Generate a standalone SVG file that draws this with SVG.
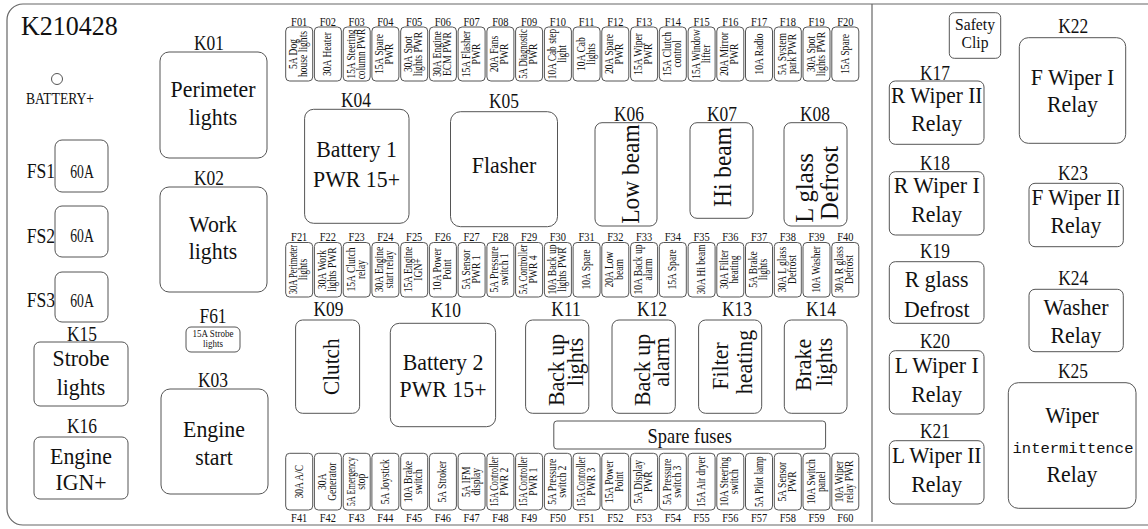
<svg xmlns="http://www.w3.org/2000/svg" width="1148" height="529" viewBox="0 0 1148 529">
<style>
text{font-family:"Liberation Serif","Times New Roman","DejaVu Serif",serif;fill:#111}
.b{fill:#fff;stroke:#555;stroke-width:1}
.fr{fill:none;stroke:#666;stroke-width:1.2}
.k{font-size:21px;text-anchor:middle}
.m{font-size:23px;text-anchor:middle}
.s{font-size:17px;text-anchor:middle}
.fl{font-size:13px;text-anchor:middle}
.ft{font-size:12px;text-anchor:middle}
.mono{font-family:"Liberation Mono",monospace;font-size:15.5px;text-anchor:middle}
</style>
<rect width="1148" height="529" fill="#fff"/>
<g id="frame">
<rect class="fr" x="7" y="4" width="1165" height="521" rx="16"/>
<line class="fr" x1="872" y1="4" x2="872" y2="522"/>
</g>
<g id="connectors"/>
<g id="title"><text transform="translate(21,35) scale(.93,1)" style="font-size:28px">K210428</text></g>
<g id="battery">
<circle cx="57" cy="79" r="5.5" fill="none" stroke="#555" stroke-width="1"/>
<text transform="translate(60,104) scale(.85,1)" style="font-size:16px;text-anchor:middle">BATTERY+</text>
</g>
<g id="FS1"><text transform="translate(55,178) scale(.8,1)" style="font-size:22px;text-anchor:end">FS1</text><rect class="b" x="55" y="140" width="53" height="52" rx="7"/><text transform="translate(82,178) scale(.72,1)" style="font-size:19px;text-anchor:middle">60A</text></g>
<g id="FS2"><text transform="translate(55,243) scale(.8,1)" style="font-size:22px;text-anchor:end">FS2</text><rect class="b" x="55" y="206" width="53" height="51" rx="7"/><text transform="translate(82,242) scale(.72,1)" style="font-size:19px;text-anchor:middle">60A</text></g>
<g id="FS3"><text transform="translate(55,307) scale(.8,1)" style="font-size:22px;text-anchor:end">FS3</text><rect class="b" x="55" y="272" width="53" height="50" rx="7"/><text transform="translate(82,307) scale(.72,1)" style="font-size:19px;text-anchor:middle">60A</text></g>

<g id="K01"><text class="k" transform="translate(209,50) scale(.83,1)">K01</text><rect class="b" x="160" y="52" width="107" height="106" rx="9"/><text class="m" transform="translate(213,97) scale(.95,1)">Perimeter</text><text class="m" transform="translate(213,125) scale(.95,1)">lights</text></g>
<g id="K02"><text class="k" transform="translate(209,185) scale(.83,1)">K02</text><rect class="b" x="160" y="187" width="107" height="105" rx="9"/><text class="m" transform="translate(213,232) scale(.95,1)">Work</text><text class="m" transform="translate(213,259) scale(.95,1)">lights</text></g>
<g id="F61"><text class="k" transform="translate(213,323) scale(.83,1)">F61</text><rect class="b" x="186" y="327" width="54" height="25" rx="5"/><text transform="translate(213,336.5) scale(.82,1)" style="font-size:11px;text-anchor:middle">15A Strobe</text><text transform="translate(213,347) scale(.82,1)" style="font-size:11px;text-anchor:middle">lights</text></g>
<g id="K03"><text class="k" transform="translate(213,387) scale(.83,1)">K03</text><rect class="b" x="161" y="389" width="107" height="105" rx="9"/><text class="m" transform="translate(214,437) scale(.95,1)">Engine</text><text class="m" transform="translate(214,465) scale(.95,1)">start</text></g>
<g id="K15"><text class="k" transform="translate(82,341) scale(.83,1)">K15</text><rect class="b" x="34" y="342" width="94" height="64" rx="6"/><text class="m" transform="translate(81,366) scale(.95,1)">Strobe</text><text class="m" transform="translate(81,395) scale(.95,1)">lights</text></g>
<g id="K16"><text class="k" transform="translate(82,433) scale(.83,1)">K16</text><rect class="b" x="34" y="437" width="94" height="62" rx="6"/><text class="m" transform="translate(81,464) scale(.95,1)">Engine</text><text class="m" transform="translate(81,490) scale(.95,1)">IGN+</text></g>

<g id="K04"><text class="k" transform="translate(356,107) scale(.83,1)">K04</text><rect class="b" x="304.6" y="109.3" width="104.4" height="114" rx="9"/><text class="m" transform="translate(356.5,157) scale(.95,1)">Battery 1</text><text class="m" transform="translate(356.5,187) scale(.95,1)">PWR 15+</text></g>
<g id="K05"><text class="k" transform="translate(504,108) scale(.83,1)">K05</text><rect class="b" x="450.5" y="111.7" width="107" height="115" rx="10"/><text class="m" transform="translate(504,173) scale(.95,1)">Flasher</text></g>
<g id="K06"><text class="k" transform="translate(629,121) scale(.83,1)">K06</text><rect class="b" x="595" y="122.7" width="62" height="103.3" rx="7"/><text transform="translate(639,174) rotate(-90) scale(.9,1)" style="font-size:26px;text-anchor:middle">Low beam</text></g>
<g id="K07"><text class="k" transform="translate(722,121) scale(.83,1)">K07</text><rect class="b" x="690" y="122.7" width="63" height="95.6" rx="7"/><text transform="translate(731,167) rotate(-90) scale(.9,1)" style="font-size:26px;text-anchor:middle">Hi beam</text></g>
<g id="K08"><text class="k" transform="translate(815,121) scale(.83,1)">K08</text><rect class="b" x="784" y="122.7" width="63" height="103.3" rx="7"/><text transform="translate(813,188) rotate(-90) scale(.95,1)" style="font-size:26px;text-anchor:middle">L glass</text><text transform="translate(838,183) rotate(-90) scale(.95,1)" style="font-size:26px;text-anchor:middle">Defrost</text></g>

<g id="K09"><text class="k" transform="translate(328.5,316) scale(.83,1)">K09</text><rect class="b" x="295.6" y="320" width="64" height="93.3" rx="7"/><text transform="translate(339,366.7) rotate(-90) scale(.92,1)" style="font-size:23px;text-anchor:middle">Clutch</text></g>
<g id="K10"><text class="k" transform="translate(446,317) scale(.83,1)">K10</text><rect class="b" x="390.3" y="323.3" width="105.3" height="103.4" rx="9"/><text class="m" transform="translate(443,370) scale(.95,1)">Battery 2</text><text class="m" transform="translate(443,397) scale(.95,1)">PWR 15+</text></g>
<g id="K11"><text class="k" transform="translate(566,316) scale(.83,1)">K11</text><rect class="b" x="525.6" y="320" width="63.2" height="93.3" rx="7"/><text transform="translate(564,370) rotate(-90) scale(.95,1)" style="font-size:23px;text-anchor:middle">Back up</text><text transform="translate(583,362) rotate(-90) scale(.95,1)" style="font-size:23px;text-anchor:middle">lights</text></g>
<g id="K12"><text class="k" transform="translate(652,316) scale(.83,1)">K12</text><rect class="b" x="612" y="320" width="63.3" height="93.3" rx="7"/><text transform="translate(650,370) rotate(-90) scale(.95,1)" style="font-size:23px;text-anchor:middle">Back up</text><text transform="translate(669,362) rotate(-90) scale(.95,1)" style="font-size:23px;text-anchor:middle">alarm</text></g>
<g id="K13"><text class="k" transform="translate(737,316) scale(.83,1)">K13</text><rect class="b" x="698.6" y="320" width="63.1" height="93.3" rx="7"/><text transform="translate(728,366) rotate(-90) scale(.95,1)" style="font-size:23px;text-anchor:middle">Filter</text><text transform="translate(752,362) rotate(-90) scale(.95,1)" style="font-size:23px;text-anchor:middle">heating</text></g>
<g id="K14"><text class="k" transform="translate(821,316) scale(.83,1)">K14</text><rect class="b" x="784.3" y="320" width="62.7" height="93.3" rx="7"/><text transform="translate(811,365) rotate(-90) scale(.95,1)" style="font-size:23px;text-anchor:middle">Brake</text><text transform="translate(832,362) rotate(-90) scale(.95,1)" style="font-size:23px;text-anchor:middle">lights</text></g>
<g id="spare"><rect class="b" x="553.8" y="421" width="271.8" height="28" rx="3"/><text transform="translate(689.7,443) scale(.92,1)" style="font-size:20px;text-anchor:middle">Spare fuses</text></g>

<g id="safety"><rect class="b" x="949.3" y="12.7" width="51.4" height="45.6" rx="5"/><text class="s" transform="translate(975,30) scale(.92,1)">Safety</text><text class="s" transform="translate(975,48) scale(.92,1)">Clip</text></g>
<g id="K17"><text class="k" transform="translate(935,80) scale(.83,1)">K17</text><rect class="b" x="889.3" y="81" width="94.7" height="63.3" rx="6"/><text class="m" transform="translate(936.7,103.3) scale(.93,1)">R Wiper II</text><text class="m" transform="translate(936.7,131) scale(.95,1)">Relay</text></g>
<g id="K18"><text class="k" transform="translate(935,170) scale(.83,1)">K18</text><rect class="b" x="889.3" y="171.7" width="94.7" height="63.3" rx="6"/><text class="m" transform="translate(936.7,193.3) scale(.95,1)">R Wiper I</text><text class="m" transform="translate(936.7,221.7) scale(.95,1)">Relay</text></g>
<g id="K19"><text class="k" transform="translate(935,258.3) scale(.83,1)">K19</text><rect class="b" x="889.3" y="261.7" width="94.7" height="61.6" rx="6"/><text class="m" transform="translate(936.7,286.7) scale(.95,1)">R glass</text><text class="m" transform="translate(936.7,316.7) scale(.95,1)">Defrost</text></g>
<g id="K20"><text class="k" transform="translate(935,348.3) scale(.83,1)">K20</text><rect class="b" x="889.3" y="350.7" width="94.7" height="63.3" rx="6"/><text class="m" transform="translate(936.7,373.3) scale(.95,1)">L Wiper I</text><text class="m" transform="translate(936.7,401.7) scale(.95,1)">Relay</text></g>
<g id="K21"><text class="k" transform="translate(935,438.3) scale(.83,1)">K21</text><rect class="b" x="889.3" y="440.7" width="94.7" height="63.3" rx="6"/><text class="m" transform="translate(936.7,463.3) scale(.93,1)">L Wiper II</text><text class="m" transform="translate(936.7,491.7) scale(.95,1)">Relay</text></g>
<g id="K22"><text class="k" transform="translate(1073.3,33.3) scale(.83,1)">K22</text><rect class="b" x="1019.3" y="37.7" width="106.4" height="105.6" rx="9"/><text class="m" transform="translate(1072.5,85) scale(.95,1)">F Wiper I</text><text class="m" transform="translate(1072.5,111.7) scale(.95,1)">Relay</text></g>
<g id="K23"><text class="k" transform="translate(1073,180) scale(.83,1)">K23</text><rect class="b" x="1029" y="183.3" width="94.3" height="63.4" rx="6"/><text class="m" transform="translate(1076,205) scale(.93,1)">F Wiper II</text><text class="m" transform="translate(1076,233.3) scale(.95,1)">Relay</text></g>
<g id="K24"><text class="k" transform="translate(1073.3,285) scale(.83,1)">K24</text><rect class="b" x="1029" y="289.3" width="94.3" height="62.4" rx="6"/><text class="m" transform="translate(1076,315) scale(.95,1)">Washer</text><text class="m" transform="translate(1076,342.7) scale(.95,1)">Relay</text></g>
<g id="K25"><text class="k" transform="translate(1073,378.3) scale(.83,1)">K25</text><rect class="b" x="1008.3" y="382.7" width="127.7" height="125.6" rx="10"/><text class="m" transform="translate(1072,423.3) scale(.95,1)">Wiper</text><text class="mono" x="1073" y="452.7">intermittence</text><text class="m" transform="translate(1072,481.7) scale(.95,1)">Relay</text></g>

<g id="F01"><text class="fl" transform="translate(299.2,25.5) scale(.8,1)">F01</text><rect class="b" x="285.7" y="27" width="27" height="54" rx="4"/><text class="ft" transform="translate(297.2,54) rotate(-90) scale(.8,1)">5A Dog</text><text class="ft" transform="translate(307.2,54) rotate(-90) scale(.8,1)">house lights</text></g>
<g id="F02"><text class="fl" transform="translate(327.9,25.5) scale(.8,1)">F02</text><rect class="b" x="314.4" y="27" width="27" height="54" rx="4"/><text class="ft" transform="translate(331.4,54) rotate(-90) scale(.8,1)">30A Heater</text></g>
<g id="F03"><text class="fl" transform="translate(356.7,25.5) scale(.8,1)">F03</text><rect class="b" x="343.2" y="27" width="27" height="54" rx="4"/><text class="ft" transform="translate(354.7,54) rotate(-90) scale(.78,1)">15A Steering</text><text class="ft" transform="translate(364.7,54) rotate(-90) scale(.78,1)">column PWR</text></g>
<g id="F04"><text class="fl" transform="translate(385.4,25.5) scale(.8,1)">F04</text><rect class="b" x="371.9" y="27" width="27" height="54" rx="4"/><text class="ft" transform="translate(383.4,54) rotate(-90) scale(.8,1)">15A Spare</text><text class="ft" transform="translate(393.4,54) rotate(-90) scale(.8,1)">PWR</text></g>
<g id="F05"><text class="fl" transform="translate(414.2,25.5) scale(.8,1)">F05</text><rect class="b" x="400.7" y="27" width="27" height="54" rx="4"/><text class="ft" transform="translate(412.2,54) rotate(-90) scale(.8,1)">30A Spot</text><text class="ft" transform="translate(422.2,54) rotate(-90) scale(.8,1)">lights PWR</text></g>
<g id="F06"><text class="fl" transform="translate(442.9,25.5) scale(.8,1)">F06</text><rect class="b" x="429.4" y="27" width="27" height="54" rx="4"/><text class="ft" transform="translate(440.9,54) rotate(-90) scale(.8,1)">30A Engine</text><text class="ft" transform="translate(450.9,54) rotate(-90) scale(.8,1)">ECM PWR</text></g>
<g id="F07"><text class="fl" transform="translate(471.6,25.5) scale(.8,1)">F07</text><rect class="b" x="458.1" y="27" width="27" height="54" rx="4"/><text class="ft" transform="translate(469.6,54) rotate(-90) scale(.8,1)">15A Flasher</text><text class="ft" transform="translate(479.6,54) rotate(-90) scale(.8,1)">PWR</text></g>
<g id="F08"><text class="fl" transform="translate(500.4,25.5) scale(.8,1)">F08</text><rect class="b" x="486.9" y="27" width="27" height="54" rx="4"/><text class="ft" transform="translate(498.4,54) rotate(-90) scale(.8,1)">20A Fans</text><text class="ft" transform="translate(508.4,54) rotate(-90) scale(.8,1)">PWR</text></g>
<g id="F09"><text class="fl" transform="translate(529.1,25.5) scale(.8,1)">F09</text><rect class="b" x="515.6" y="27" width="27" height="54" rx="4"/><text class="ft" transform="translate(527.1,54) rotate(-90) scale(.72,1)">5A Diagnostic</text><text class="ft" transform="translate(537.1,54) rotate(-90) scale(.8,1)">PWR</text></g>
<g id="F10"><text class="fl" transform="translate(557.9,25.5) scale(.8,1)">F10</text><rect class="b" x="544.4" y="27" width="27" height="54" rx="4"/><text class="ft" transform="translate(555.9,54) rotate(-90) scale(.78,1)">10A Cab step</text><text class="ft" transform="translate(565.9,54) rotate(-90) scale(.8,1)">light</text></g>
<g id="F11"><text class="fl" transform="translate(586.6,25.5) scale(.8,1)">F11</text><rect class="b" x="573.1" y="27" width="27" height="54" rx="4"/><text class="ft" transform="translate(584.6,54) rotate(-90) scale(.8,1)">10A Cab</text><text class="ft" transform="translate(594.6,54) rotate(-90) scale(.8,1)">lights</text></g>
<g id="F12"><text class="fl" transform="translate(615.3,25.5) scale(.8,1)">F12</text><rect class="b" x="601.8" y="27" width="27" height="54" rx="4"/><text class="ft" transform="translate(613.3,54) rotate(-90) scale(.8,1)">20A Spare</text><text class="ft" transform="translate(623.3,54) rotate(-90) scale(.8,1)">PWR</text></g>
<g id="F13"><text class="fl" transform="translate(644.1,25.5) scale(.8,1)">F13</text><rect class="b" x="630.6" y="27" width="27" height="54" rx="4"/><text class="ft" transform="translate(642.1,54) rotate(-90) scale(.8,1)">15A Wiper</text><text class="ft" transform="translate(652.1,54) rotate(-90) scale(.8,1)">PWR</text></g>
<g id="F14"><text class="fl" transform="translate(672.8,25.5) scale(.8,1)">F14</text><rect class="b" x="659.3" y="27" width="27" height="54" rx="4"/><text class="ft" transform="translate(670.8,54) rotate(-90) scale(.8,1)">15A Clutch</text><text class="ft" transform="translate(680.8,54) rotate(-90) scale(.8,1)">control</text></g>
<g id="F15"><text class="fl" transform="translate(701.6,25.5) scale(.8,1)">F15</text><rect class="b" x="688.1" y="27" width="27" height="54" rx="4"/><text class="ft" transform="translate(699.6,54) rotate(-90) scale(.78,1)">15A Window</text><text class="ft" transform="translate(709.6,54) rotate(-90) scale(.8,1)">lifter</text></g>
<g id="F16"><text class="fl" transform="translate(730.3,25.5) scale(.8,1)">F16</text><rect class="b" x="716.8" y="27" width="27" height="54" rx="4"/><text class="ft" transform="translate(728.3,54) rotate(-90) scale(.8,1)">20A Mirror</text><text class="ft" transform="translate(738.3,54) rotate(-90) scale(.8,1)">PWR</text></g>
<g id="F17"><text class="fl" transform="translate(759,25.5) scale(.8,1)">F17</text><rect class="b" x="745.5" y="27" width="27" height="54" rx="4"/><text class="ft" transform="translate(762.5,54) rotate(-90) scale(.8,1)">10A Radio</text></g>
<g id="F18"><text class="fl" transform="translate(787.8,25.5) scale(.8,1)">F18</text><rect class="b" x="774.3" y="27" width="27" height="54" rx="4"/><text class="ft" transform="translate(785.8,54) rotate(-90) scale(.8,1)">5A System</text><text class="ft" transform="translate(795.8,54) rotate(-90) scale(.8,1)">park PWR</text></g>
<g id="F19"><text class="fl" transform="translate(816.5,25.5) scale(.8,1)">F19</text><rect class="b" x="803" y="27" width="27" height="54" rx="4"/><text class="ft" transform="translate(814.5,54) rotate(-90) scale(.8,1)">30A Spot</text><text class="ft" transform="translate(824.5,54) rotate(-90) scale(.8,1)">lights PWR</text></g>
<g id="F20"><text class="fl" transform="translate(845.3,25.5) scale(.8,1)">F20</text><rect class="b" x="831.8" y="27" width="27" height="54" rx="4"/><text class="ft" transform="translate(848.8,54) rotate(-90) scale(.8,1)">15A Spare</text></g>

<g id="F21"><text class="fl" transform="translate(299.2,241) scale(.8,1)">F21</text><rect class="b" x="285.7" y="242.5" width="27" height="54.5" rx="4"/><text class="ft" transform="translate(297.2,269.5) rotate(-90) scale(.71,1)">30A Perimeter</text><text class="ft" transform="translate(307.2,269.5) rotate(-90) scale(.8,1)">lights</text></g>
<g id="F22"><text class="fl" transform="translate(327.9,241) scale(.8,1)">F22</text><rect class="b" x="314.4" y="242.5" width="27" height="54.5" rx="4"/><text class="ft" transform="translate(325.9,269.5) rotate(-90) scale(.8,1)">30A Work</text><text class="ft" transform="translate(335.9,269.5) rotate(-90) scale(.8,1)">lights PWR</text></g>
<g id="F23"><text class="fl" transform="translate(356.7,241) scale(.8,1)">F23</text><rect class="b" x="343.2" y="242.5" width="27" height="54.5" rx="4"/><text class="ft" transform="translate(354.7,269.5) rotate(-90) scale(.8,1)">15A Clutch</text><text class="ft" transform="translate(364.7,269.5) rotate(-90) scale(.8,1)">relay</text></g>
<g id="F24"><text class="fl" transform="translate(385.4,241) scale(.8,1)">F24</text><rect class="b" x="371.9" y="242.5" width="27" height="54.5" rx="4"/><text class="ft" transform="translate(383.4,269.5) rotate(-90) scale(.8,1)">30A Engine</text><text class="ft" transform="translate(393.4,269.5) rotate(-90) scale(.8,1)">start relay</text></g>
<g id="F25"><text class="fl" transform="translate(414.2,241) scale(.8,1)">F25</text><rect class="b" x="400.7" y="242.5" width="27" height="54.5" rx="4"/><text class="ft" transform="translate(412.2,269.5) rotate(-90) scale(.8,1)">15A Engine</text><text class="ft" transform="translate(422.2,269.5) rotate(-90) scale(.8,1)">IGN+</text></g>
<g id="F26"><text class="fl" transform="translate(442.9,241) scale(.8,1)">F26</text><rect class="b" x="429.4" y="242.5" width="27" height="54.5" rx="4"/><text class="ft" transform="translate(440.9,269.5) rotate(-90) scale(.8,1)">10A Power</text><text class="ft" transform="translate(450.9,269.5) rotate(-90) scale(.8,1)">Point</text></g>
<g id="F27"><text class="fl" transform="translate(471.6,241) scale(.8,1)">F27</text><rect class="b" x="458.1" y="242.5" width="27" height="54.5" rx="4"/><text class="ft" transform="translate(469.6,269.5) rotate(-90) scale(.8,1)">5A Sensor</text><text class="ft" transform="translate(479.6,269.5) rotate(-90) scale(.8,1)">PWR 1</text></g>
<g id="F28"><text class="fl" transform="translate(500.4,241) scale(.8,1)">F28</text><rect class="b" x="486.9" y="242.5" width="27" height="54.5" rx="4"/><text class="ft" transform="translate(498.4,269.5) rotate(-90) scale(.8,1)">5A Pressure</text><text class="ft" transform="translate(508.4,269.5) rotate(-90) scale(.8,1)">switch 1</text></g>
<g id="F29"><text class="fl" transform="translate(529.1,241) scale(.8,1)">F29</text><rect class="b" x="515.6" y="242.5" width="27" height="54.5" rx="4"/><text class="ft" transform="translate(527.1,269.5) rotate(-90) scale(.75,1)">5A Controller</text><text class="ft" transform="translate(537.1,269.5) rotate(-90) scale(.8,1)">PWR 4</text></g>
<g id="F30"><text class="fl" transform="translate(557.9,241) scale(.8,1)">F30</text><rect class="b" x="544.4" y="242.5" width="27" height="54.5" rx="4"/><text class="ft" transform="translate(555.9,269.5) rotate(-90) scale(.8,1)">10A Back up</text><text class="ft" transform="translate(565.9,269.5) rotate(-90) scale(.8,1)">lights PWR</text></g>
<g id="F31"><text class="fl" transform="translate(586.6,241) scale(.8,1)">F31</text><rect class="b" x="573.1" y="242.5" width="27" height="54.5" rx="4"/><text class="ft" transform="translate(590.1,269.5) rotate(-90) scale(.8,1)">10A Spare</text></g>
<g id="F32"><text class="fl" transform="translate(615.3,241) scale(.8,1)">F32</text><rect class="b" x="601.8" y="242.5" width="27" height="54.5" rx="4"/><text class="ft" transform="translate(613.3,269.5) rotate(-90) scale(.8,1)">20A Low</text><text class="ft" transform="translate(623.3,269.5) rotate(-90) scale(.8,1)">beam</text></g>
<g id="F33"><text class="fl" transform="translate(644.1,241) scale(.8,1)">F33</text><rect class="b" x="630.6" y="242.5" width="27" height="54.5" rx="4"/><text class="ft" transform="translate(642.1,269.5) rotate(-90) scale(.8,1)">10A Back up</text><text class="ft" transform="translate(652.1,269.5) rotate(-90) scale(.8,1)">alarm</text></g>
<g id="F34"><text class="fl" transform="translate(672.8,241) scale(.8,1)">F34</text><rect class="b" x="659.3" y="242.5" width="27" height="54.5" rx="4"/><text class="ft" transform="translate(676.3,269.5) rotate(-90) scale(.8,1)">15A Spare</text></g>
<g id="F35"><text class="fl" transform="translate(701.6,241) scale(.8,1)">F35</text><rect class="b" x="688.1" y="242.5" width="27" height="54.5" rx="4"/><text class="ft" transform="translate(705.1,269.5) rotate(-90) scale(.78,1)">30A Hi beam</text></g>
<g id="F36"><text class="fl" transform="translate(730.3,241) scale(.8,1)">F36</text><rect class="b" x="716.8" y="242.5" width="27" height="54.5" rx="4"/><text class="ft" transform="translate(728.3,269.5) rotate(-90) scale(.8,1)">30A Filter</text><text class="ft" transform="translate(738.3,269.5) rotate(-90) scale(.8,1)">heating</text></g>
<g id="F37"><text class="fl" transform="translate(759,241) scale(.8,1)">F37</text><rect class="b" x="745.5" y="242.5" width="27" height="54.5" rx="4"/><text class="ft" transform="translate(757,269.5) rotate(-90) scale(.8,1)">5A Brake</text><text class="ft" transform="translate(767,269.5) rotate(-90) scale(.8,1)">lights</text></g>
<g id="F38"><text class="fl" transform="translate(787.8,241) scale(.8,1)">F38</text><rect class="b" x="774.3" y="242.5" width="27" height="54.5" rx="4"/><text class="ft" transform="translate(785.8,269.5) rotate(-90) scale(.8,1)">30A L glass</text><text class="ft" transform="translate(795.8,269.5) rotate(-90) scale(.8,1)">Defrost</text></g>
<g id="F39"><text class="fl" transform="translate(816.5,241) scale(.8,1)">F39</text><rect class="b" x="803" y="242.5" width="27" height="54.5" rx="4"/><text class="ft" transform="translate(820,269.5) rotate(-90) scale(.8,1)">10A Washer</text></g>
<g id="F40"><text class="fl" transform="translate(845.3,241) scale(.8,1)">F40</text><rect class="b" x="831.8" y="242.5" width="27" height="54.5" rx="4"/><text class="ft" transform="translate(843.3,269.5) rotate(-90) scale(.8,1)">30A R glass</text><text class="ft" transform="translate(853.3,269.5) rotate(-90) scale(.8,1)">Defrost</text></g>

<g id="F41"><rect class="b" x="285.7" y="453.3" width="27" height="56.7" rx="4"/><text class="ft" transform="translate(302.7,481.7) rotate(-90) scale(.8,1)">30A A/C</text><text class="fl" transform="translate(299.2,522) scale(.8,1)">F41</text></g>
<g id="F42"><rect class="b" x="314.4" y="453.3" width="27" height="56.7" rx="4"/><text class="ft" transform="translate(325.9,481.7) rotate(-90) scale(.8,1)">30A</text><text class="ft" transform="translate(335.9,481.7) rotate(-90) scale(.8,1)">Generator</text><text class="fl" transform="translate(327.9,522) scale(.8,1)">F42</text></g>
<g id="F43"><rect class="b" x="343.2" y="453.3" width="27" height="56.7" rx="4"/><text class="ft" transform="translate(354.7,481.7) rotate(-90) scale(.69,1)">5A Emergency</text><text class="ft" transform="translate(364.7,481.7) rotate(-90) scale(.8,1)">stop</text><text class="fl" transform="translate(356.7,522) scale(.8,1)">F43</text></g>
<g id="F44"><rect class="b" x="371.9" y="453.3" width="27" height="56.7" rx="4"/><text class="ft" transform="translate(388.9,481.7) rotate(-90) scale(.8,1)">5A Joystick</text><text class="fl" transform="translate(385.4,522) scale(.8,1)">F44</text></g>
<g id="F45"><rect class="b" x="400.7" y="453.3" width="27" height="56.7" rx="4"/><text class="ft" transform="translate(412.2,481.7) rotate(-90) scale(.8,1)">10A Brake</text><text class="ft" transform="translate(422.2,481.7) rotate(-90) scale(.8,1)">switch</text><text class="fl" transform="translate(414.2,522) scale(.8,1)">F45</text></g>
<g id="F46"><rect class="b" x="429.4" y="453.3" width="27" height="56.7" rx="4"/><text class="ft" transform="translate(446.4,481.7) rotate(-90) scale(.8,1)">5A Stroker</text><text class="fl" transform="translate(442.9,522) scale(.8,1)">F46</text></g>
<g id="F47"><rect class="b" x="458.1" y="453.3" width="27" height="56.7" rx="4"/><text class="ft" transform="translate(469.6,481.7) rotate(-90) scale(.8,1)">5A IFM</text><text class="ft" transform="translate(479.6,481.7) rotate(-90) scale(.8,1)">display</text><text class="fl" transform="translate(471.6,522) scale(.8,1)">F47</text></g>
<g id="F48"><rect class="b" x="486.9" y="453.3" width="27" height="56.7" rx="4"/><text class="ft" transform="translate(498.4,481.7) rotate(-90) scale(.69,1)">15A Controller</text><text class="ft" transform="translate(508.4,481.7) rotate(-90) scale(.8,1)">PWR 2</text><text class="fl" transform="translate(500.4,522) scale(.8,1)">F48</text></g>
<g id="F49"><rect class="b" x="515.6" y="453.3" width="27" height="56.7" rx="4"/><text class="ft" transform="translate(527.1,481.7) rotate(-90) scale(.69,1)">15A Controller</text><text class="ft" transform="translate(537.1,481.7) rotate(-90) scale(.8,1)">PWR 1</text><text class="fl" transform="translate(529.1,522) scale(.8,1)">F49</text></g>
<g id="F50"><rect class="b" x="544.4" y="453.3" width="27" height="56.7" rx="4"/><text class="ft" transform="translate(555.9,481.7) rotate(-90) scale(.8,1)">5A Pressure</text><text class="ft" transform="translate(565.9,481.7) rotate(-90) scale(.8,1)">switch 2</text><text class="fl" transform="translate(557.9,522) scale(.8,1)">F50</text></g>
<g id="F51"><rect class="b" x="573.1" y="453.3" width="27" height="56.7" rx="4"/><text class="ft" transform="translate(584.6,481.7) rotate(-90) scale(.69,1)">15A Controller</text><text class="ft" transform="translate(594.6,481.7) rotate(-90) scale(.8,1)">PWR 3</text><text class="fl" transform="translate(586.6,522) scale(.8,1)">F51</text></g>
<g id="F52"><rect class="b" x="601.8" y="453.3" width="27" height="56.7" rx="4"/><text class="ft" transform="translate(613.3,481.7) rotate(-90) scale(.8,1)">15A Power</text><text class="ft" transform="translate(623.3,481.7) rotate(-90) scale(.8,1)">Point</text><text class="fl" transform="translate(615.3,522) scale(.8,1)">F52</text></g>
<g id="F53"><rect class="b" x="630.6" y="453.3" width="27" height="56.7" rx="4"/><text class="ft" transform="translate(642.1,481.7) rotate(-90) scale(.8,1)">5A Display</text><text class="ft" transform="translate(652.1,481.7) rotate(-90) scale(.8,1)">PWR</text><text class="fl" transform="translate(644.1,522) scale(.8,1)">F53</text></g>
<g id="F54"><rect class="b" x="659.3" y="453.3" width="27" height="56.7" rx="4"/><text class="ft" transform="translate(670.8,481.7) rotate(-90) scale(.8,1)">5A Pressure</text><text class="ft" transform="translate(680.8,481.7) rotate(-90) scale(.8,1)">switch 3</text><text class="fl" transform="translate(672.8,522) scale(.8,1)">F54</text></g>
<g id="F55"><rect class="b" x="688.1" y="453.3" width="27" height="56.7" rx="4"/><text class="ft" transform="translate(705.1,481.7) rotate(-90) scale(.76,1)">15A Air dryer</text><text class="fl" transform="translate(701.6,522) scale(.8,1)">F55</text></g>
<g id="F56"><rect class="b" x="716.8" y="453.3" width="27" height="56.7" rx="4"/><text class="ft" transform="translate(728.3,481.7) rotate(-90) scale(.78,1)">10A Steering</text><text class="ft" transform="translate(738.3,481.7) rotate(-90) scale(.8,1)">switch</text><text class="fl" transform="translate(730.3,522) scale(.8,1)">F56</text></g>
<g id="F57"><rect class="b" x="745.5" y="453.3" width="27" height="56.7" rx="4"/><text class="ft" transform="translate(762.5,481.7) rotate(-90) scale(.76,1)">5A Pilot lamp</text><text class="fl" transform="translate(759,522) scale(.8,1)">F57</text></g>
<g id="F58"><rect class="b" x="774.3" y="453.3" width="27" height="56.7" rx="4"/><text class="ft" transform="translate(785.8,481.7) rotate(-90) scale(.8,1)">5A Sensor</text><text class="ft" transform="translate(795.8,481.7) rotate(-90) scale(.8,1)">PWR</text><text class="fl" transform="translate(787.8,522) scale(.8,1)">F58</text></g>
<g id="F59"><rect class="b" x="803" y="453.3" width="27" height="56.7" rx="4"/><text class="ft" transform="translate(814.5,481.7) rotate(-90) scale(.8,1)">10A Switch</text><text class="ft" transform="translate(824.5,481.7) rotate(-90) scale(.8,1)">panel</text><text class="fl" transform="translate(816.5,522) scale(.8,1)">F59</text></g>
<g id="F60"><rect class="b" x="831.8" y="453.3" width="27" height="56.7" rx="4"/><text class="ft" transform="translate(843.3,481.7) rotate(-90) scale(.8,1)">10A Wiper</text><text class="ft" transform="translate(853.3,481.7) rotate(-90) scale(.8,1)">relay PWR</text><text class="fl" transform="translate(845.3,522) scale(.8,1)">F60</text></g>
</svg>
